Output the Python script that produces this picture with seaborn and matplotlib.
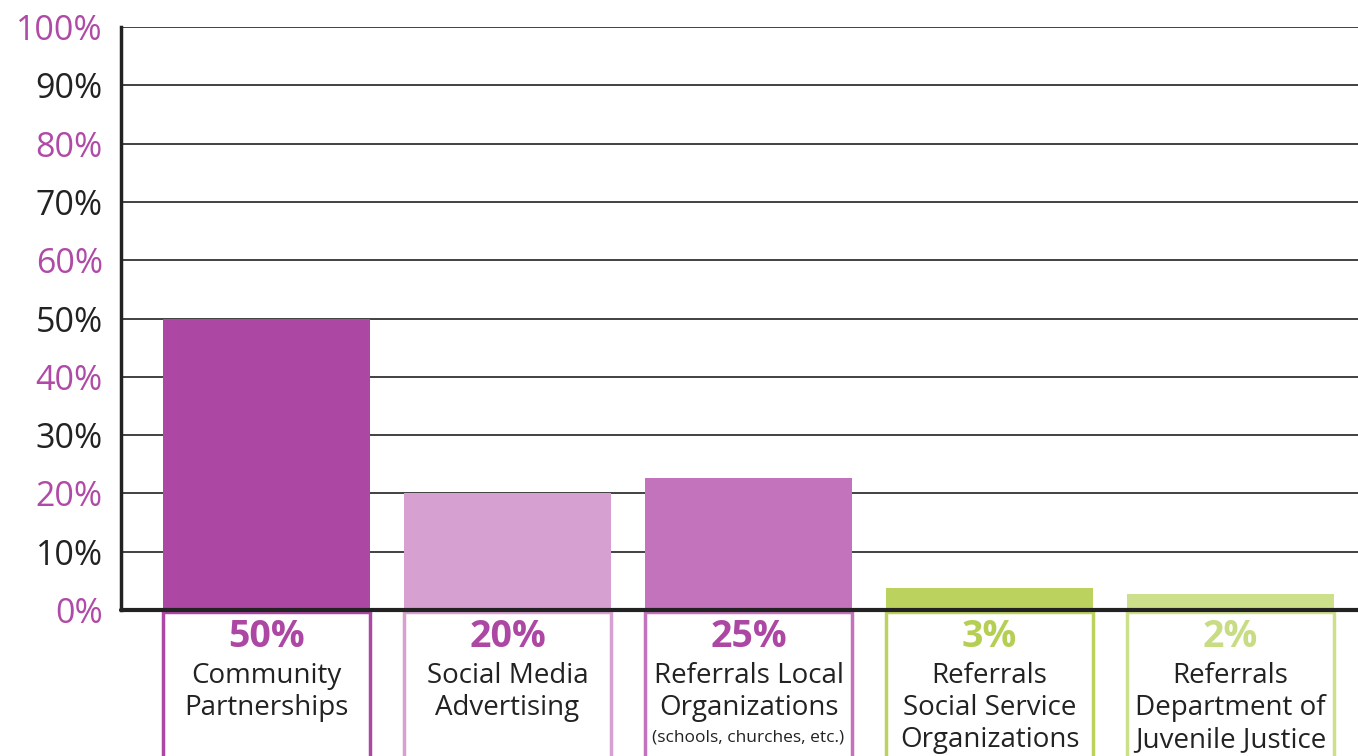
import numpy as np
import pandas as pd
import matplotlib
matplotlib.use("Agg")
import matplotlib.pyplot as plt
import seaborn as sns
from matplotlib.patches import Rectangle

categories = ["Community\nPartnerships", "Social Media\nAdvertising", "Referrals Local\nOrganizations",
              "Referrals\nSocial Service\nOrganizations", "Referrals\nDepartment of\nJuvenile Justice"]
bar_heights = [50, 20, 22.6, 3.8, 2.7]
value_labels = ["50%", "20%", "25%", "3%", "2%"]
notes = ["", "", "(schools, churches, etc.)", "", ""]
bar_colors = ["#AD47A4", "#D6A0D0", "#C373BC", "#BBD35E", "#CCDF8A"]
label_colors = ["#AD47A4", "#AD47A4", "#AD47A4", "#B5CF55", "#C8DC84"]
yticks = [0, 10, 20, 30, 40, 50, 60, 70, 80, 90, 100]

sns.set_style("white")
plt.rcParams['font.family'] = ['Open Sans', 'DejaVu Sans']

df = pd.DataFrame({"cat": categories, "val": bar_heights})

fig = plt.figure(figsize=(13.58, 7.56), dpi=100)
ax = fig.add_axes([121 / 1358, 1 - 610 / 756, 1 - 121 / 1358, 583 / 756])

sns.barplot(data=df, x="cat", y="val", hue="cat", palette=bar_colors, width=0.859,
            legend=False, ax=ax, saturation=1, zorder=3, linewidth=0)

ax.set_xlim(-0.604, 4.529)
ax.set_ylim(0, 100)
ax.set_yticks(yticks)
ax.set_yticklabels([f"{t}%" for t in yticks], fontsize=24.5)
for i, lab in enumerate(ax.get_yticklabels()):
    lab.set_color("#B04AA7" if i % 2 == 0 else "#222222")
ax.tick_params(axis="y", length=0, pad=13)
ax.set_xticks([])
ax.set_xlabel("")
ax.set_ylabel("")

ax.yaxis.grid(True, color="#333333", linewidth=1.3, zorder=1)
ax.set_axisbelow(True)
for s in ["top", "right", "bottom"]:
    ax.spines[s].set_visible(False)
ax.spines["left"].set_color("#222222")
ax.spines["left"].set_linewidth(2.5)
ax.axhline(0, color="#222222", linewidth=3, zorder=5, clip_on=False)

# label boxes under each bar
for i in range(len(categories)):
    ax.add_patch(Rectangle((i - 0.4295, -40), 0.859, 39.6, fill=False,
                           edgecolor=bar_colors[i], linewidth=2.5, clip_on=False))
    ax.text(i, -4.7, value_labels[i], ha="center", va="center", fontsize=27,
            fontweight="bold", color=label_colors[i], clip_on=False)
    ax.text(i, -9.0, categories[i], ha="center", va="top", fontsize=20,
            color="#222222", linespacing=1.19, clip_on=False)
    if notes[i]:
        ax.text(i, -21.9, notes[i], ha="center", va="center", fontsize=12.5,
                color="#222222", clip_on=False)

fig.savefig("out.png", dpi=100)
